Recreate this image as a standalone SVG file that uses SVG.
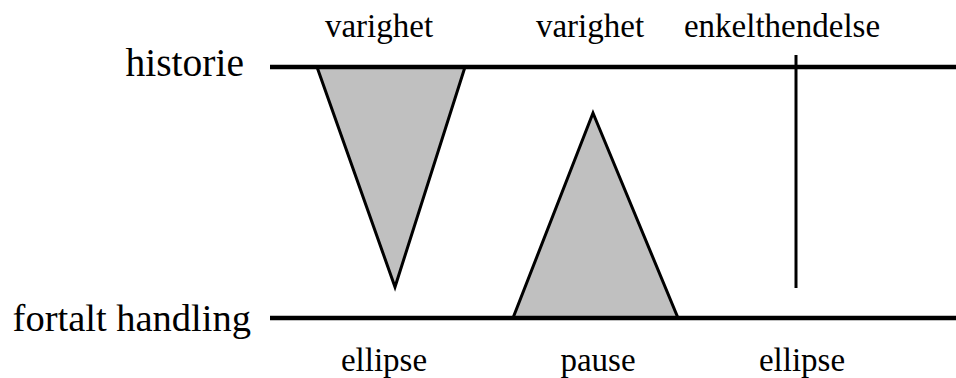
<svg xmlns="http://www.w3.org/2000/svg" width="956" height="378" viewBox="0 0 956 378">
<style>
  text { font-family: "Liberation Serif", "Times New Roman", serif; fill: #000; }
  .lbl { font-size: 33px; text-anchor: middle; }
  .axis { font-size: 39.5px; text-anchor: end; }
  .line { stroke: #000; stroke-width: 4.5; fill: none; }
  .tri { fill: #c0c0c0; stroke: #000; stroke-width: 3; stroke-linejoin: miter; }
</style>
<rect width="956" height="378" fill="#fff"/>
<g id="triangle-varighet-1">
  <polygon class="tri" points="317,67 465,67 395,287"/>
</g>
<g id="triangle-varighet-2">
  <polygon class="tri" points="593,113 678,318 513,318"/>
</g>
<g id="connectors">
  <line class="line" x1="270" y1="67" x2="956" y2="67"/>
  <line class="line" x1="270" y1="318" x2="956" y2="318"/>
  <line x1="796" y1="55" x2="796" y2="288" stroke="#000" stroke-width="3"/>
</g>
<g id="labels">
  <text class="axis" x="244" y="76">historie</text>
  <text class="axis" x="251" y="331" style="font-size:38.5px">fortalt handling</text>
  <text class="lbl" x="379" y="37">varighet</text>
  <text class="lbl" x="590" y="37">varighet</text>
  <text class="lbl" x="782" y="37">enkelthendelse</text>
  <text class="lbl" x="384" y="371">ellipse</text>
  <text class="lbl" x="598" y="371">pause</text>
  <text class="lbl" x="802" y="371">ellipse</text>
</g>
</svg>
